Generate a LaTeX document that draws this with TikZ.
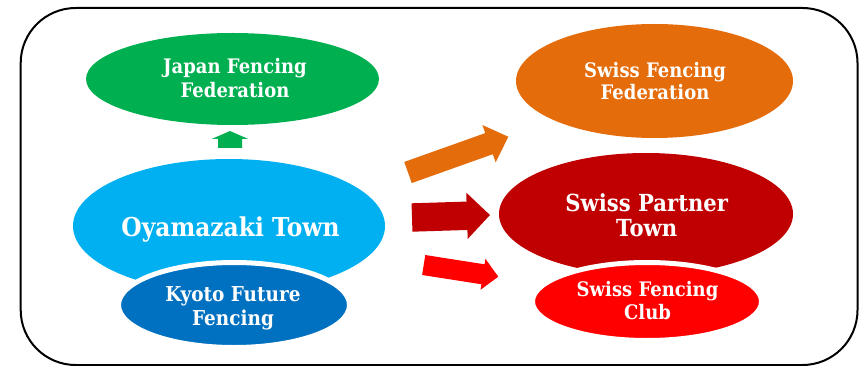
\documentclass[tikz,border=0pt]{standalone}
\usepackage{fontspec}
\usetikzlibrary{shapes.geometric}
\newfontfamily\labfont[FakeStretch=0.9]{DejaVu Serif}
\definecolor{cgreen}{HTML}{00B050}
\definecolor{corange}{HTML}{E46C0A}
\definecolor{clblue}{HTML}{00B0F0}
\definecolor{cdblue}{HTML}{0070C0}
\definecolor{cdred}{HTML}{C00000}
\definecolor{cred}{HTML}{FF0000}
% block arrow: tail mid x,y ; angle ; length ; shaft width ; head width ; head length ; colour
\newcommand{\blockarrow}[8]{%
  \begin{scope}[shift={(#1,#2)},rotate=#3]
    \fill[#8] (0,-#5/2) -- ({#4-#7},-#5/2) -- ({#4-#7},-#6/2) -- (#4,0)
      -- ({#4-#7},#6/2) -- ({#4-#7},#5/2) -- (0,#5/2) -- cycle;
  \end{scope}}
\begin{document}
\begin{tikzpicture}[x=1pt,y=-1pt,
  blob/.style={ellipse,inner sep=0pt,outer sep=0pt},
  txt/.style={text=white,anchor=base,inner sep=0pt,font=\labfont\bfseries\fontsize{20}{20}\selectfont}]
\useasboundingbox (0,0) rectangle (861,366);
\draw[line width=2pt,rounded corners=55pt] (20.7,8) rectangle (857.5,365);
% ellipses
\node[blob,fill=cgreen,minimum width=293pt,minimum height=92pt] (jff) at (232.5,79) {};
\node[blob,fill=corange,minimum width=277pt,minimum height=114pt] (sff) at (654.5,81) {};
\node[blob,fill=clblue,minimum width=312pt,minimum height=134pt] (oya) at (229,226) {};
\node[blob,fill=cdblue,draw=white,line width=5pt,minimum width=231pt,minimum height=85pt] (kff) at (234,305) {};
\node[blob,fill=cdred,minimum width=294pt,minimum height=122pt] (spt) at (646,214) {};
\node[blob,fill=cred,draw=white,line width=5pt,minimum width=229pt,minimum height=78pt] (sfc) at (647,301.5) {};
% texts
\node[txt] (jffA) at (235,73.7) {Japan Fencing};
\node[txt] (jffB) at (235,97.7) {Federation};
\node[txt] (sffA) at (655,77.7) {Swiss Fencing};
\node[txt] (sffB) at (655,100) {Federation};
\node[txt,font=\labfont\bfseries\fontsize{26}{26}\selectfont] (oyaA) at (230.5,236) {Oyamazaki Town};
\node[txt,font=\labfont\bfseries\fontsize{20.5}{20.5}\selectfont] (kffA) at (233,301.7) {Kyoto Future};
\node[txt,font=\labfont\bfseries\fontsize{20.5}{20.5}\selectfont] (kffB) at (233,325) {Fencing};
\node[txt,font=\labfont\bfseries\fontsize{23.5}{23.5}\selectfont] (sptA) at (646.7,211) {Swiss Partner};
\node[txt,font=\labfont\bfseries\fontsize{23.5}{23.5}\selectfont] (sptB) at (646.7,236) {Town};
\node[txt] (sfcA) at (647.5,296.7) {Swiss Fencing};
\node[txt] (sfcB) at (647.5,319) {Club};
% block arrows
\blockarrow{230}{148}{90}{17}{24}{36.6}{8}{cgreen}
\blockarrow{408}{172.5}{19.6}{106.5}{22.4}{39.6}{20.5}{corange}
\blockarrow{412}{217.5}{1.8}{78}{28.4}{46.3}{23}{cdred}
\blockarrow{423.7}{265}{-8.9}{75.5}{20.2}{31.3}{15.5}{cred}
\end{tikzpicture}
\end{document}
